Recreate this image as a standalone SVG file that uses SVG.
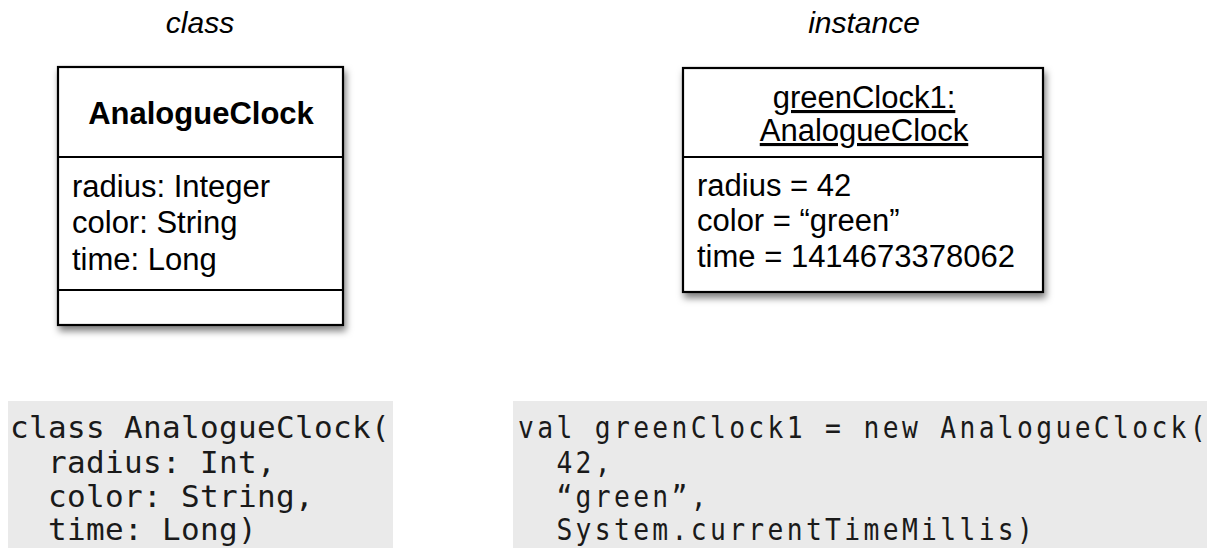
<svg xmlns="http://www.w3.org/2000/svg" width="1216" height="548" viewBox="0 0 1216 548">
  <defs>
    <filter id="shadow" x="-10%" y="-10%" width="125%" height="130%">
      <feDropShadow dx="2" dy="5" stdDeviation="3.5" flood-color="#000" flood-opacity="0.5"/>
    </filter>
    <style>
      .box { fill: #fff; stroke: #000; stroke-width: 2.2; }
      .div { stroke: #000; stroke-width: 2.2; }
      .head { font-family: "Liberation Sans", Arial, sans-serif; font-style: italic; font-size: 30px; fill: #000; }
      .name { font-family: "Liberation Sans", Arial, sans-serif; font-weight: bold; font-size: 31px; fill: #000; }
      .txt { font-family: "Liberation Sans", Arial, sans-serif; font-size: 31px; fill: #000; }
      .code-bg { fill: #eaeaea; }
      .code { font-family: "DejaVu Sans Mono", "Liberation Mono", monospace; font-size: 31px; fill: #1a1a1a; white-space: pre; }
    </style>
  </defs>

  <rect width="1216" height="548" fill="#fff"/>

  <!-- column headings -->
  <text class="head" x="200" y="33" text-anchor="middle">class</text>
  <text class="head" x="864" y="33" text-anchor="middle">instance</text>

  <!-- class box -->
  <g id="class-AnalogueClock">
    <rect class="box" x="58" y="67" width="285" height="258" filter="url(#shadow)"/>
    <line class="div" x1="58" y1="157" x2="343" y2="157"/>
    <line class="div" x1="58" y1="290" x2="343" y2="290"/>
    <text class="name" x="201" y="124" text-anchor="middle">AnalogueClock</text>
    <text class="txt" x="72" y="197">radius: Integer</text>
    <text class="txt" x="72" y="233">color: String</text>
    <text class="txt" x="72" y="270">time: Long</text>
  </g>

  <!-- instance box -->
  <g id="instance-greenClock1">
    <rect class="box" x="683" y="68" width="360" height="224" filter="url(#shadow)"/>
    <line class="div" x1="683" y1="157" x2="1043" y2="157"/>
    <text class="txt" x="864" y="108" text-anchor="middle" text-decoration="underline">greenClock1:</text>
    <text class="txt" x="864" y="141" text-anchor="middle" text-decoration="underline">AnalogueClock</text>
    <text class="txt" x="697" y="196">radius = 42</text>
    <text class="txt" x="697" y="231">color = “green”</text>
    <text class="txt" x="697" y="267">time = 1414673378062</text>
  </g>

  <!-- class definition code -->
  <g id="code-class">
    <rect class="code-bg" x="8" y="401" width="385" height="147"/>
    <text class="code" x="10" y="438" letter-spacing="0.34">class AnalogueClock(</text>
    <text class="code" x="10" y="473" letter-spacing="0.34">  radius: Int,</text>
    <text class="code" x="10" y="507" letter-spacing="0.34">  color: String,</text>
    <text class="code" x="10" y="540" letter-spacing="0.34">  time: Long)</text>
  </g>

  <!-- instance creation code -->
  <g id="code-instance">
    <rect class="code-bg" x="513" y="401" width="694" height="147"/>
    <g transform="translate(518 0) scale(0.85 1)">
      <text class="code" x="0" y="438" letter-spacing="3.93">val greenClock1 = new AnalogueClock(</text>
      <text class="code" x="0" y="473" letter-spacing="3.93">  42,</text>
      <text class="code" x="0" y="507" letter-spacing="3.93">  “green”,</text>
      <text class="code" x="0" y="540" letter-spacing="3.93">  System.currentTimeMillis)</text>
    </g>
  </g>
</svg>
